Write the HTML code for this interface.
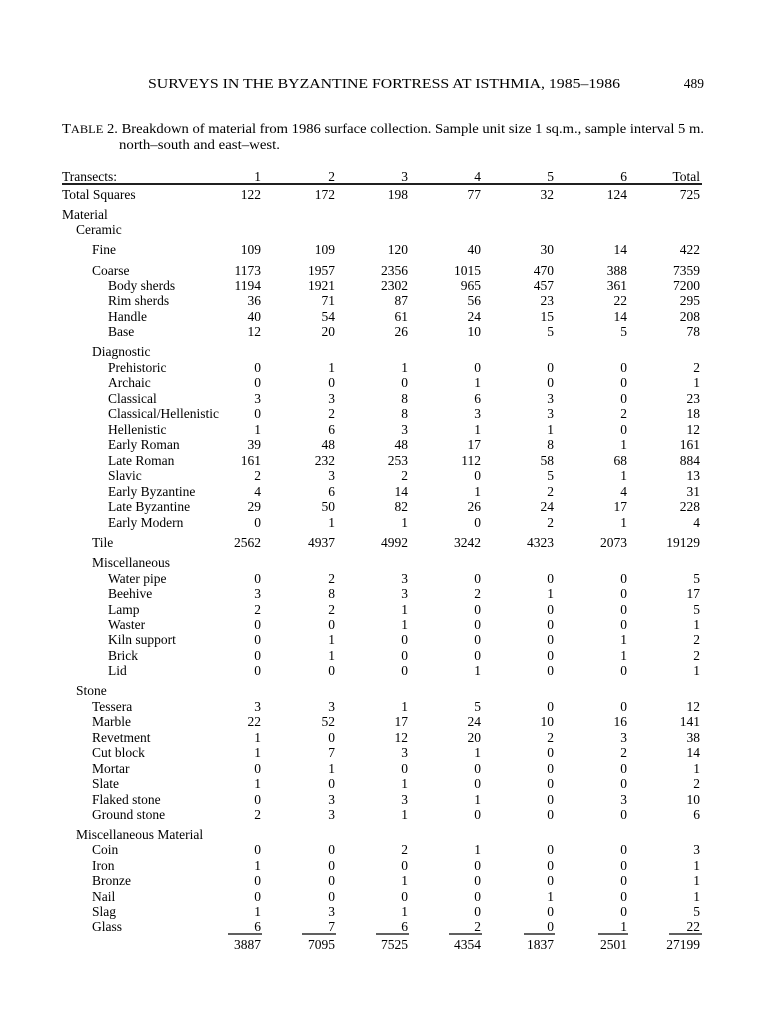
<!DOCTYPE html>
<html><head><meta charset="utf-8"><style>
html,body{margin:0;padding:0;background:#fff}
svg{display:block}
text{font-family:"Liberation Serif",serif;font-size:13.5px;fill:#000}
.n{text-anchor:end}
</style></head><body>
<svg width="768" height="1024" viewBox="0 0 768 1024">
<text x="148" y="88" font-size="15" textLength="472" lengthAdjust="spacingAndGlyphs">SURVEYS IN THE BYZANTINE FORTRESS AT ISTHMIA, 1985–1986</text>
<text x="704" y="88" class="n" font-size="15">489</text>
<text x="62" y="133" font-size="14.5" textLength="642" lengthAdjust="spacingAndGlyphs">T<tspan font-size="11.5">ABLE</tspan> 2. Breakdown of material from 1986 surface collection. Sample unit size 1 sq.m., sample interval 5 m.</text>
<text x="119" y="149" font-size="14.5" textLength="161" lengthAdjust="spacingAndGlyphs">north–south and east–west.</text>
<line x1="62" y1="184" x2="702" y2="184" stroke="#000" stroke-width="1.8"/>
<g>
<text x="62" y="181">Transects:</text><text class="n" x="261" y="181">1</text><text class="n" x="335" y="181">2</text><text class="n" x="408" y="181">3</text><text class="n" x="481" y="181">4</text><text class="n" x="554" y="181">5</text><text class="n" x="627" y="181">6</text><text class="n" x="700" y="181">Total</text>
<text x="62" y="199">Total Squares</text><text class="n" x="261" y="199">122</text><text class="n" x="335" y="199">172</text><text class="n" x="408" y="199">198</text><text class="n" x="481" y="199">77</text><text class="n" x="554" y="199">32</text><text class="n" x="627" y="199">124</text><text class="n" x="700" y="199">725</text>
<text x="62" y="219">Material</text>
<text x="76" y="234">Ceramic</text>
<text x="92" y="254">Fine</text><text class="n" x="261" y="254">109</text><text class="n" x="335" y="254">109</text><text class="n" x="408" y="254">120</text><text class="n" x="481" y="254">40</text><text class="n" x="554" y="254">30</text><text class="n" x="627" y="254">14</text><text class="n" x="700" y="254">422</text>
<text x="92" y="275">Coarse</text><text class="n" x="261" y="275">1173</text><text class="n" x="335" y="275">1957</text><text class="n" x="408" y="275">2356</text><text class="n" x="481" y="275">1015</text><text class="n" x="554" y="275">470</text><text class="n" x="627" y="275">388</text><text class="n" x="700" y="275">7359</text>
<text x="108" y="290">Body sherds</text><text class="n" x="261" y="290">1194</text><text class="n" x="335" y="290">1921</text><text class="n" x="408" y="290">2302</text><text class="n" x="481" y="290">965</text><text class="n" x="554" y="290">457</text><text class="n" x="627" y="290">361</text><text class="n" x="700" y="290">7200</text>
<text x="108" y="305">Rim sherds</text><text class="n" x="261" y="305">36</text><text class="n" x="335" y="305">71</text><text class="n" x="408" y="305">87</text><text class="n" x="481" y="305">56</text><text class="n" x="554" y="305">23</text><text class="n" x="627" y="305">22</text><text class="n" x="700" y="305">295</text>
<text x="108" y="321">Handle</text><text class="n" x="261" y="321">40</text><text class="n" x="335" y="321">54</text><text class="n" x="408" y="321">61</text><text class="n" x="481" y="321">24</text><text class="n" x="554" y="321">15</text><text class="n" x="627" y="321">14</text><text class="n" x="700" y="321">208</text>
<text x="108" y="336">Base</text><text class="n" x="261" y="336">12</text><text class="n" x="335" y="336">20</text><text class="n" x="408" y="336">26</text><text class="n" x="481" y="336">10</text><text class="n" x="554" y="336">5</text><text class="n" x="627" y="336">5</text><text class="n" x="700" y="336">78</text>
<text x="92" y="356">Diagnostic</text>
<text x="108" y="372">Prehistoric</text><text class="n" x="261" y="372">0</text><text class="n" x="335" y="372">1</text><text class="n" x="408" y="372">1</text><text class="n" x="481" y="372">0</text><text class="n" x="554" y="372">0</text><text class="n" x="627" y="372">0</text><text class="n" x="700" y="372">2</text>
<text x="108" y="387">Archaic</text><text class="n" x="261" y="387">0</text><text class="n" x="335" y="387">0</text><text class="n" x="408" y="387">0</text><text class="n" x="481" y="387">1</text><text class="n" x="554" y="387">0</text><text class="n" x="627" y="387">0</text><text class="n" x="700" y="387">1</text>
<text x="108" y="403">Classical</text><text class="n" x="261" y="403">3</text><text class="n" x="335" y="403">3</text><text class="n" x="408" y="403">8</text><text class="n" x="481" y="403">6</text><text class="n" x="554" y="403">3</text><text class="n" x="627" y="403">0</text><text class="n" x="700" y="403">23</text>
<text x="108" y="418">Classical/Hellenistic</text><text class="n" x="261" y="418">0</text><text class="n" x="335" y="418">2</text><text class="n" x="408" y="418">8</text><text class="n" x="481" y="418">3</text><text class="n" x="554" y="418">3</text><text class="n" x="627" y="418">2</text><text class="n" x="700" y="418">18</text>
<text x="108" y="434">Hellenistic</text><text class="n" x="261" y="434">1</text><text class="n" x="335" y="434">6</text><text class="n" x="408" y="434">3</text><text class="n" x="481" y="434">1</text><text class="n" x="554" y="434">1</text><text class="n" x="627" y="434">0</text><text class="n" x="700" y="434">12</text>
<text x="108" y="449">Early Roman</text><text class="n" x="261" y="449">39</text><text class="n" x="335" y="449">48</text><text class="n" x="408" y="449">48</text><text class="n" x="481" y="449">17</text><text class="n" x="554" y="449">8</text><text class="n" x="627" y="449">1</text><text class="n" x="700" y="449">161</text>
<text x="108" y="465">Late Roman</text><text class="n" x="261" y="465">161</text><text class="n" x="335" y="465">232</text><text class="n" x="408" y="465">253</text><text class="n" x="481" y="465">112</text><text class="n" x="554" y="465">58</text><text class="n" x="627" y="465">68</text><text class="n" x="700" y="465">884</text>
<text x="108" y="480">Slavic</text><text class="n" x="261" y="480">2</text><text class="n" x="335" y="480">3</text><text class="n" x="408" y="480">2</text><text class="n" x="481" y="480">0</text><text class="n" x="554" y="480">5</text><text class="n" x="627" y="480">1</text><text class="n" x="700" y="480">13</text>
<text x="108" y="496">Early Byzantine</text><text class="n" x="261" y="496">4</text><text class="n" x="335" y="496">6</text><text class="n" x="408" y="496">14</text><text class="n" x="481" y="496">1</text><text class="n" x="554" y="496">2</text><text class="n" x="627" y="496">4</text><text class="n" x="700" y="496">31</text>
<text x="108" y="511">Late Byzantine</text><text class="n" x="261" y="511">29</text><text class="n" x="335" y="511">50</text><text class="n" x="408" y="511">82</text><text class="n" x="481" y="511">26</text><text class="n" x="554" y="511">24</text><text class="n" x="627" y="511">17</text><text class="n" x="700" y="511">228</text>
<text x="108" y="527">Early Modern</text><text class="n" x="261" y="527">0</text><text class="n" x="335" y="527">1</text><text class="n" x="408" y="527">1</text><text class="n" x="481" y="527">0</text><text class="n" x="554" y="527">2</text><text class="n" x="627" y="527">1</text><text class="n" x="700" y="527">4</text>
<text x="92" y="547">Tile</text><text class="n" x="261" y="547">2562</text><text class="n" x="335" y="547">4937</text><text class="n" x="408" y="547">4992</text><text class="n" x="481" y="547">3242</text><text class="n" x="554" y="547">4323</text><text class="n" x="627" y="547">2073</text><text class="n" x="700" y="547">19129</text>
<text x="92" y="567">Miscellaneous</text>
<text x="108" y="583">Water pipe</text><text class="n" x="261" y="583">0</text><text class="n" x="335" y="583">2</text><text class="n" x="408" y="583">3</text><text class="n" x="481" y="583">0</text><text class="n" x="554" y="583">0</text><text class="n" x="627" y="583">0</text><text class="n" x="700" y="583">5</text>
<text x="108" y="598">Beehive</text><text class="n" x="261" y="598">3</text><text class="n" x="335" y="598">8</text><text class="n" x="408" y="598">3</text><text class="n" x="481" y="598">2</text><text class="n" x="554" y="598">1</text><text class="n" x="627" y="598">0</text><text class="n" x="700" y="598">17</text>
<text x="108" y="614">Lamp</text><text class="n" x="261" y="614">2</text><text class="n" x="335" y="614">2</text><text class="n" x="408" y="614">1</text><text class="n" x="481" y="614">0</text><text class="n" x="554" y="614">0</text><text class="n" x="627" y="614">0</text><text class="n" x="700" y="614">5</text>
<text x="108" y="629">Waster</text><text class="n" x="261" y="629">0</text><text class="n" x="335" y="629">0</text><text class="n" x="408" y="629">1</text><text class="n" x="481" y="629">0</text><text class="n" x="554" y="629">0</text><text class="n" x="627" y="629">0</text><text class="n" x="700" y="629">1</text>
<text x="108" y="644">Kiln support</text><text class="n" x="261" y="644">0</text><text class="n" x="335" y="644">1</text><text class="n" x="408" y="644">0</text><text class="n" x="481" y="644">0</text><text class="n" x="554" y="644">0</text><text class="n" x="627" y="644">1</text><text class="n" x="700" y="644">2</text>
<text x="108" y="660">Brick</text><text class="n" x="261" y="660">0</text><text class="n" x="335" y="660">1</text><text class="n" x="408" y="660">0</text><text class="n" x="481" y="660">0</text><text class="n" x="554" y="660">0</text><text class="n" x="627" y="660">1</text><text class="n" x="700" y="660">2</text>
<text x="108" y="675">Lid</text><text class="n" x="261" y="675">0</text><text class="n" x="335" y="675">0</text><text class="n" x="408" y="675">0</text><text class="n" x="481" y="675">1</text><text class="n" x="554" y="675">0</text><text class="n" x="627" y="675">0</text><text class="n" x="700" y="675">1</text>
<text x="76" y="695">Stone</text>
<text x="92" y="711">Tessera</text><text class="n" x="261" y="711">3</text><text class="n" x="335" y="711">3</text><text class="n" x="408" y="711">1</text><text class="n" x="481" y="711">5</text><text class="n" x="554" y="711">0</text><text class="n" x="627" y="711">0</text><text class="n" x="700" y="711">12</text>
<text x="92" y="726">Marble</text><text class="n" x="261" y="726">22</text><text class="n" x="335" y="726">52</text><text class="n" x="408" y="726">17</text><text class="n" x="481" y="726">24</text><text class="n" x="554" y="726">10</text><text class="n" x="627" y="726">16</text><text class="n" x="700" y="726">141</text>
<text x="92" y="742">Revetment</text><text class="n" x="261" y="742">1</text><text class="n" x="335" y="742">0</text><text class="n" x="408" y="742">12</text><text class="n" x="481" y="742">20</text><text class="n" x="554" y="742">2</text><text class="n" x="627" y="742">3</text><text class="n" x="700" y="742">38</text>
<text x="92" y="757">Cut block</text><text class="n" x="261" y="757">1</text><text class="n" x="335" y="757">7</text><text class="n" x="408" y="757">3</text><text class="n" x="481" y="757">1</text><text class="n" x="554" y="757">0</text><text class="n" x="627" y="757">2</text><text class="n" x="700" y="757">14</text>
<text x="92" y="773">Mortar</text><text class="n" x="261" y="773">0</text><text class="n" x="335" y="773">1</text><text class="n" x="408" y="773">0</text><text class="n" x="481" y="773">0</text><text class="n" x="554" y="773">0</text><text class="n" x="627" y="773">0</text><text class="n" x="700" y="773">1</text>
<text x="92" y="788">Slate</text><text class="n" x="261" y="788">1</text><text class="n" x="335" y="788">0</text><text class="n" x="408" y="788">1</text><text class="n" x="481" y="788">0</text><text class="n" x="554" y="788">0</text><text class="n" x="627" y="788">0</text><text class="n" x="700" y="788">2</text>
<text x="92" y="804">Flaked stone</text><text class="n" x="261" y="804">0</text><text class="n" x="335" y="804">3</text><text class="n" x="408" y="804">3</text><text class="n" x="481" y="804">1</text><text class="n" x="554" y="804">0</text><text class="n" x="627" y="804">3</text><text class="n" x="700" y="804">10</text>
<text x="92" y="819">Ground stone</text><text class="n" x="261" y="819">2</text><text class="n" x="335" y="819">3</text><text class="n" x="408" y="819">1</text><text class="n" x="481" y="819">0</text><text class="n" x="554" y="819">0</text><text class="n" x="627" y="819">0</text><text class="n" x="700" y="819">6</text>
<text x="76" y="839">Miscellaneous Material</text>
<text x="92" y="854">Coin</text><text class="n" x="261" y="854">0</text><text class="n" x="335" y="854">0</text><text class="n" x="408" y="854">2</text><text class="n" x="481" y="854">1</text><text class="n" x="554" y="854">0</text><text class="n" x="627" y="854">0</text><text class="n" x="700" y="854">3</text>
<text x="92" y="870">Iron</text><text class="n" x="261" y="870">1</text><text class="n" x="335" y="870">0</text><text class="n" x="408" y="870">0</text><text class="n" x="481" y="870">0</text><text class="n" x="554" y="870">0</text><text class="n" x="627" y="870">0</text><text class="n" x="700" y="870">1</text>
<text x="92" y="885">Bronze</text><text class="n" x="261" y="885">0</text><text class="n" x="335" y="885">0</text><text class="n" x="408" y="885">1</text><text class="n" x="481" y="885">0</text><text class="n" x="554" y="885">0</text><text class="n" x="627" y="885">0</text><text class="n" x="700" y="885">1</text>
<text x="92" y="901">Nail</text><text class="n" x="261" y="901">0</text><text class="n" x="335" y="901">0</text><text class="n" x="408" y="901">0</text><text class="n" x="481" y="901">0</text><text class="n" x="554" y="901">1</text><text class="n" x="627" y="901">0</text><text class="n" x="700" y="901">1</text>
<text x="92" y="916">Slag</text><text class="n" x="261" y="916">1</text><text class="n" x="335" y="916">3</text><text class="n" x="408" y="916">1</text><text class="n" x="481" y="916">0</text><text class="n" x="554" y="916">0</text><text class="n" x="627" y="916">0</text><text class="n" x="700" y="916">5</text>
<text x="92" y="931">Glass</text><text class="n" x="261" y="931">6</text><text class="n" x="335" y="931">7</text><text class="n" x="408" y="931">6</text><text class="n" x="481" y="931">2</text><text class="n" x="554" y="931">0</text><text class="n" x="627" y="931">1</text><text class="n" x="700" y="931">22</text>
</g>
<g stroke="#000" stroke-width="1.3">
<line x1="228" y1="934" x2="262" y2="934"/><line x1="302" y1="934" x2="336" y2="934"/><line x1="376" y1="934" x2="409" y2="934"/><line x1="449" y1="934" x2="482" y2="934"/><line x1="524" y1="934" x2="555" y2="934"/><line x1="598" y1="934" x2="628" y2="934"/><line x1="669" y1="934" x2="702" y2="934"/>
</g>
<text class="n" x="261" y="949">3887</text><text class="n" x="335" y="949">7095</text><text class="n" x="408" y="949">7525</text><text class="n" x="481" y="949">4354</text><text class="n" x="554" y="949">1837</text><text class="n" x="627" y="949">2501</text><text class="n" x="700" y="949">27199</text>
</svg>
</body></html>
